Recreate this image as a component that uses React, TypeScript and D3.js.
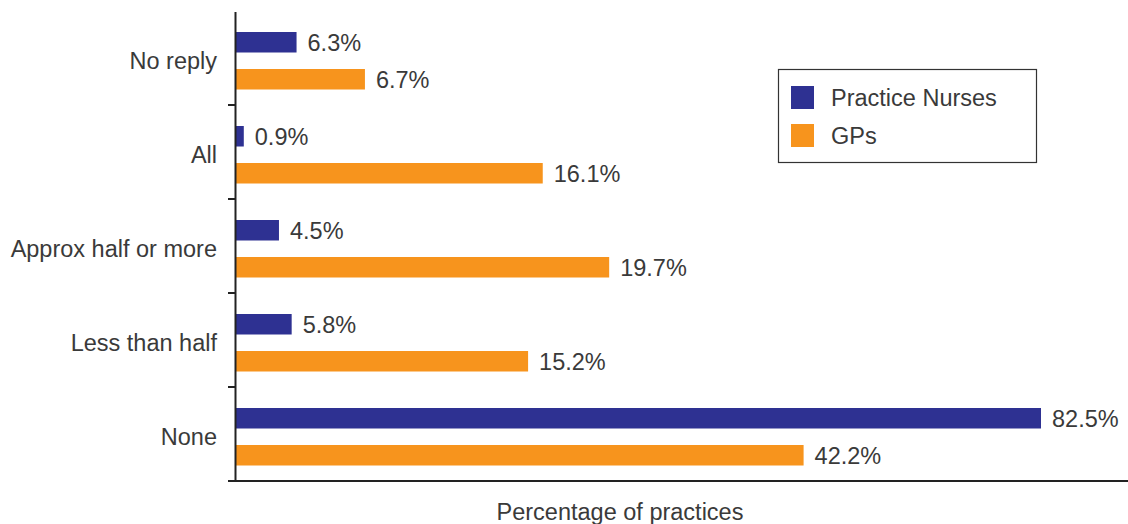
import React from "react";
import * as d3 from "d3";

const categories = ["No reply", "All", "Approx half or more", "Less than half", "None"];
const seriesNames = ["Practice Nurses", "GPs"];
const nursesValues = [6.3, 0.9, 4.5, 5.8, 82.5];
const gpsValues = [6.7, 16.1, 19.7, 15.2, 42.2];
// The source chart's GP bars are not drawn in proportion to their labels;
// these are the bar lengths as drawn, in the same units as the nurse bars.
const gpsBarLengths = [13.3, 31.5, 38.3, 30.0, 58.2];
const xTitle = "Percentage of practices";

const W = 1128;
const H = 524;
const BLUE = "#2E3192";
const ORANGE = "#F7941D";
const TEXT = "#3a3a3a";
const FONT = "'Liberation Sans', Arial, Helvetica, sans-serif";

export default function App() {
  const x = d3.scaleLinear().domain([0, 82.5]).range([235, 1041]);
  const y = d3.scaleBand<string>().domain(categories).range([11, 481]);
  const bw = y.bandwidth();
  const blueOff = 21;
  const orangeOff = 58;
  const barH = 20.5;
  const boundaries = categories.map((c) => (y(c) as number) + bw);

  return (
    <svg
      width={W}
      height={H}
      style={{ position: "absolute", left: 0, top: 0, background: "#fff" }}
      fontFamily={FONT}
    >
      {categories.map((c, i) => {
        const y0 = y(c) as number;
        return (
          <g key={c}>
            <rect x={x(0)} y={y0 + blueOff} width={x(nursesValues[i]) - x(0)} height={barH} fill={BLUE} />
            <rect x={x(0)} y={y0 + orangeOff} width={x(gpsBarLengths[i]) - x(0)} height={barH} fill={ORANGE} />
            <text
              x={x(nursesValues[i]) + 11}
              y={y0 + blueOff + barH / 2}
              dy="0.36em"
              fontSize={23.5}
              fill={TEXT}
            >
              {nursesValues[i].toFixed(1)}%
            </text>
            <text
              x={x(gpsBarLengths[i]) + 11}
              y={y0 + orangeOff + barH / 2}
              dy="0.36em"
              fontSize={23.5}
              fill={TEXT}
            >
              {gpsValues[i].toFixed(1)}%
            </text>
            <text
              x={217}
              y={y0 + (blueOff + orangeOff + barH) / 2}
              dy="0.36em"
              textAnchor="end"
              fontSize={23.5}
              fill={TEXT}
            >
              {c}
            </text>
          </g>
        );
      })}
      {/* axes */}
      <line x1={235.5} x2={235.5} y1={12} y2={482} stroke="#222" strokeWidth={2} />
      <line x1={235} x2={W} y1={481} y2={481} stroke="#222" strokeWidth={2} />
      {boundaries.map((b, i) => (
        <line key={i} x1={228} x2={235} y1={b} y2={b} stroke="#222" strokeWidth={2} />
      ))}
      <text x={620} y={520} textAnchor="middle" fontSize={23.5} fill={TEXT}>
        {xTitle}
      </text>
      {/* legend */}
      <rect x={778.5} y={69.5} width={258} height={93} fill="#fff" stroke="#333" strokeWidth={1.2} />
      {seriesNames.map((s, i) => (
        <g key={s}>
          <rect x={791} y={86 + i * 38} width={23} height={23} fill={i === 0 ? BLUE : ORANGE} />
          <text x={831} y={97.5 + i * 38} dy="0.36em" fontSize={23.5} fill={TEXT}>
            {s}
          </text>
        </g>
      ))}
    </svg>
  );
}
